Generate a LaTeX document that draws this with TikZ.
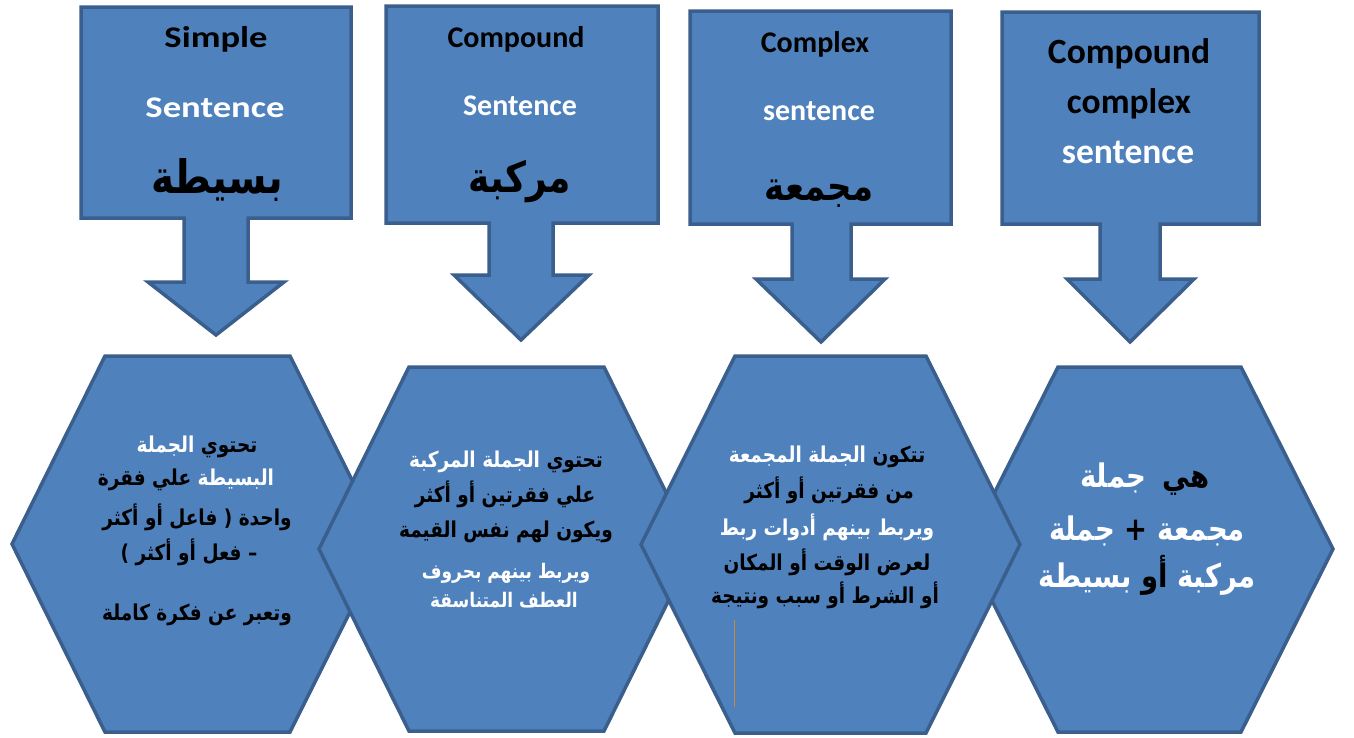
\documentclass[tikz,border=0pt]{standalone}
\usepackage{fontspec}
\setmainfont{Carlito}
\newfontfamily\arabicfont[Script=Arabic]{DejaVu Sans}
\TeXXeTstate=1
\definecolor{fillblue}{HTML}{4F81BD}
\definecolor{edgeblue}{HTML}{3A5F8C}
\definecolor{orangeline}{HTML}{C8893C}
\newcommand\ar[1]{\beginR#1\endR}
\newcommand\wh[1]{\textcolor{white}{#1}}
\newcommand\tall[1]{\scalebox{1}[1.18]{#1}}
\begin{document}
\begin{tikzpicture}[x=1pt,y=-1pt,
  shapestyle/.style={fill=fillblue,draw=edgeblue,line width=3.5pt,line join=miter},
  en/.style={font=\bfseries\fontsize{30}{36}\selectfont,anchor=base,inner sep=0pt},
  enbig/.style={font=\bfseries\fontsize{35.5}{40}\selectfont,anchor=base,inner sep=0pt},
  artitle/.style={font=\arabicfont\bfseries\fontsize{36}{42}\selectfont,anchor=base,inner sep=0pt},
  arline/.style={font=\arabicfont\bfseries\fontsize{18.5}{22}\selectfont,anchor=base,inner sep=0pt},
  arsmall/.style={font=\arabicfont\bfseries\fontsize{17}{20}\selectfont,anchor=base,inner sep=0pt,text=white},
  arbig/.style={font=\arabicfont\bfseries\fontsize{27.5}{34}\selectfont,anchor=base,inner sep=0pt}]
\useasboundingbox (0,0) rectangle (1354,737);
\fill[white] (0,0) rectangle (1354,737);
% block arrows
\draw[shapestyle] (81,7) -- (351,7) -- (351,218) -- (248,218) -- (248,282) -- (284,282) -- (216,335) -- (148,282) -- (184,282) -- (184,218) -- (81,218) -- cycle;
\draw[shapestyle] (386,6) -- (658,6) -- (658,223) -- (553,223) -- (553,275) -- (589,275) -- (521,340) -- (454,275) -- (489,275) -- (489,223) -- (386,223) -- cycle;
\draw[shapestyle] (690,11) -- (951,11) -- (951,224) -- (851,224) -- (851,279) -- (885,279) -- (821,342) -- (756,279) -- (792,279) -- (792,224) -- (690,224) -- cycle;
\draw[shapestyle] (1002,12) -- (1259,12) -- (1259,224) -- (1160,224) -- (1160,279) -- (1194,279) -- (1130,342) -- (1067,279) -- (1100,279) -- (1100,224) -- (1002,224) -- cycle;
% hexagons
\draw[shapestyle] (105,356) -- (290,356) -- (384,544) -- (290,732) -- (105,732) -- (12,544) -- cycle;
\draw[shapestyle] (409,367) -- (604,367) -- (694,549) -- (604,731) -- (409,731) -- (319,549) -- cycle;
\draw[shapestyle] (1058,367) -- (1241,367) -- (1333,549) -- (1241,732) -- (1058,732) -- (966,549) -- cycle;
\draw[shapestyle] (735,356) -- (926,356) -- (1020,544.5) -- (926,733) -- (735,733) -- (641,544.5) -- cycle;
\draw[orangeline,line width=1pt] (734,620) -- (734,707);
% box titles
\node[en] (t1a) at (216,47) {\scalebox{1.22}[1]{Simple}};
\node[en,text=white] (t1b) at (215,117) {\scalebox{1.22}[1]{Sentence}};
\node[artitle,font=\arabicfont\bfseries\fontsize{39}{44}\selectfont] (t1c) at (217,193) {\tall{\ar{بسيطة}}};
\node[en] (t2a) at (516,47) {Compound};
\node[en,text=white] (t2b) at (520,115) {Sentence};
\node[artitle] (t2c) at (520,192) {\tall{\ar{مركبة}}};
\node[en] (t3a) at (815,52) {Complex};
\node[en,text=white] (t3b) at (819,120) {sentence};
\node[artitle,font=\arabicfont\bfseries\fontsize{34}{40}\selectfont] (t3c) at (819,200) {\tall{\ar{مجمعة}}};
\node[enbig] (t4a) at (1129,63) {Compound};
\node[enbig] (t4b) at (1129,113) {complex};
\node[enbig,text=white] (t4c) at (1128,163) {sentence};
% hexagon 1
\node[arline] (h1a) at (197,452) {\tall{\wh{\ar{الجملة}} \ar{تحتوي}}};
\node[arline] (h1b) at (186,485) {\tall{\ar{علي فقرة} \wh{\ar{البسيطة}}}};
\node[arline] (h1c) at (197,525) {\tall{\ar{واحدة ( فاعل أو أكثر}}};
\node[arline] (h1d) at (189,560) {\tall{\ar{– فعل أو أكثر )}}};
\node[arline] (h1e) at (197,620) {\tall{\ar{وتعبر عن فكرة كاملة}}};
% hexagon 2
\node[arline] (h2a) at (506,467) {\tall{\wh{\ar{الجملة المركبة}} \ar{تحتوي}}};
\node[arline] (h2b) at (505,502) {\tall{\ar{علي فقرتين أو أكثر}}};
\node[arline] (h2c) at (506,537) {\tall{\ar{ويكون لهم نفس القيمة}}};
\node[arsmall] (h2d) at (506,578) {\tall{\ar{ويربط بينهم بحروف}}};
\node[arsmall] (h2e) at (504,607) {\tall{\ar{العطف المتناسقة}}};
% hexagon 3
\node[arline] (h3a) at (827,462) {\tall{\wh{\ar{الجملة المجمعة}} \ar{تتكون}}};
\node[arline] (h3b) at (829,498) {\tall{\ar{من فقرتين أو أكثر}}};
\node[arline,text=white] (h3c) at (827,535) {\tall{\ar{ويربط بينهم أدوات ربط}}};
\node[arline] (h3d) at (827,570) {\tall{\ar{لعرض الوقت أو المكان}}};
\node[arline] (h3e) at (825,603) {\tall{\ar{أو الشرط أو سبب ونتيجة}}};
% hexagon 4
\node[arbig] (h4a) at (1145,487) {\tall{\wh{\ar{جملة}}\hspace{0.6em}\ar{هي}}};
\node[arbig] (h4b) at (1147,540) {\tall{\wh{\ar{جملة}} \textbf{+} \wh{\ar{مجمعة}}}};
\node[arbig] (h4c) at (1147,587) {\tall{\wh{\ar{بسيطة}} \ar{أو} \wh{\ar{مركبة}}}};
\end{tikzpicture}
\end{document}
